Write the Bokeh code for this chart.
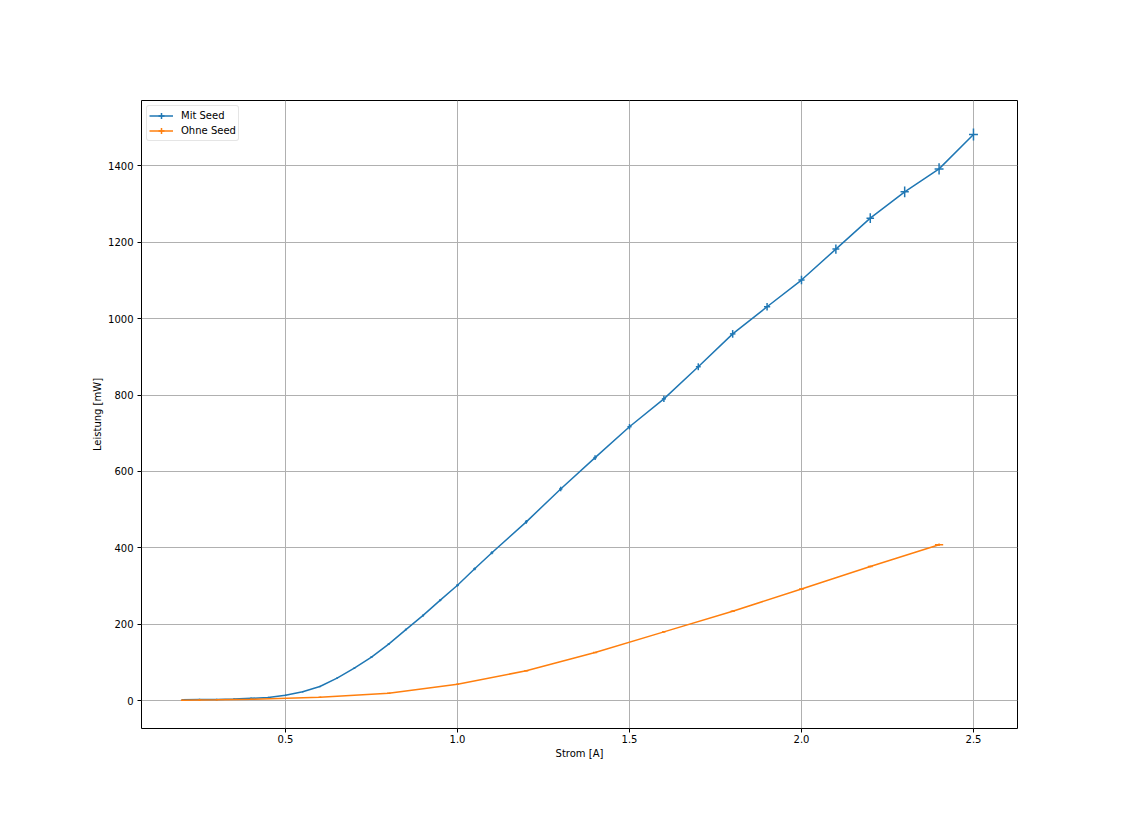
from bokeh.plotting import figure
from bokeh.models import (ColumnDataSource, FixedTicker, Range1d, Legend, LegendItem,
                          NumeralTickFormatter)
from bokeh.embed import file_html
from bokeh.resources import INLINE

# Data
mit_strom = [0.2, 0.25, 0.3, 0.35, 0.4, 0.45, 0.5, 0.55, 0.6, 0.65, 0.7, 0.75, 0.8, 0.85,
             0.9, 0.95, 1.0, 1.05, 1.1, 1.2, 1.3, 1.4, 1.5, 1.6, 1.7, 1.8, 1.9, 2.0, 2.1,
             2.2, 2.3, 2.4, 2.5]
mit_leistung = [2, 3, 3, 4, 6, 8, 14, 23, 37, 59, 85, 114, 148, 186, 223, 263, 302, 345,
                387, 468, 554, 636, 717, 790, 874, 960, 1031, 1101, 1182, 1263, 1332, 1392, 1482]
mit_xerr = [0.002, 0.002, 0.002, 0.002, 0.002, 0.002, 0.002, 0.002, 0.002, 0.002, 0.003,
            0.003, 0.003, 0.003, 0.003, 0.003, 0.004, 0.004, 0.004, 0.004, 0.005, 0.005,
            0.006, 0.006, 0.007, 0.008, 0.009, 0.009, 0.010, 0.011, 0.012, 0.013, 0.013]
mit_yerr = [0.5, 0.5, 0.5, 0.5, 0.5, 0.5, 0.5, 0.5, 1, 1, 1, 1.5, 2, 2, 2.5, 3, 3, 3.5, 4,
            5, 6, 6, 7, 8, 9, 10, 10, 11, 12, 13, 14, 15, 16]

ohne_strom = [0.2, 0.25, 0.3, 0.4, 0.6, 0.8, 1.0, 1.2, 1.4, 1.6, 1.8, 2.0, 2.2, 2.4]
ohne_leistung = [1, 1.5, 2, 3.5, 9, 19, 43, 78, 126, 180, 234, 292, 351, 408]
ohne_xerr = [0.004, 0.003, 0.003, 0.003, 0.004, 0.005, 0.004, 0.006, 0.006, 0.005, 0.006,
             0.007, 0.007, 0.012]
ohne_yerr = [0.5, 0.5, 0.5, 0.5, 0.5, 0.5, 1, 1, 1, 1.5, 2, 2, 2, 3]

x_ticks = [0.5, 1.0, 1.5, 2.0, 2.5]
y_ticks = [0, 200, 400, 600, 800, 1000, 1200, 1400]

BLUE = "#1f77b4"
ORANGE = "#ff7f0e"

p = figure(frame_width=876, frame_height=628, output_backend="svg", toolbar_location=None,
           x_range=Range1d(0.0814, 2.628), y_range=Range1d(-73, 1571),
           min_border_left=141, min_border_right=97, min_border_top=100, min_border_bottom=88,
           background_fill_color="white", border_fill_color="white")

p.outline_line_color = "black"
p.outline_line_width = 1

for ax in (p.xaxis, p.yaxis):
    ax.axis_line_color = None
    ax.major_tick_in = 0
    ax.major_tick_out = 4
    ax.major_tick_line_color = "black"
    ax.minor_tick_line_color = None
    ax.major_label_text_font = "DejaVu Sans"
    ax.major_label_text_font_size = "10px"
    ax.major_label_text_color = "black"
    ax.axis_label_text_font = "DejaVu Sans"
    ax.axis_label_text_font_size = "10px"
    ax.axis_label_text_font_style = "normal"
    ax.axis_label_text_color = "black"

p.xaxis.major_label_standoff = 2
p.yaxis.major_label_standoff = 4
p.xaxis.ticker = FixedTicker(ticks=x_ticks)
p.yaxis.ticker = FixedTicker(ticks=y_ticks)
p.xaxis.formatter = NumeralTickFormatter(format="0.0")
p.yaxis.formatter = NumeralTickFormatter(format="0")
p.xaxis.axis_label = "Strom [A]"
p.yaxis.axis_label = "Leistung [mW]"
p.xaxis.axis_label_standoff = 2
p.yaxis.axis_label_standoff = 2

p.grid.grid_line_color = "#b0b0b0"
p.grid.grid_line_width = 1

def series(xs, ys, xe, ye, color):
    src = ColumnDataSource(dict(
        x=xs, y=ys,
        x0=[a - e for a, e in zip(xs, xe)], x1=[a + e for a, e in zip(xs, xe)],
        y0=[b - e for b, e in zip(ys, ye)], y1=[b + e for b, e in zip(ys, ye)],
    ))
    ln = p.line("x", "y", source=src, line_color=color, line_width=1.5)
    p.segment(x0="x0", y0="y", x1="x1", y1="y", source=src, line_color=color, line_width=1.5)
    p.segment(x0="x", y0="y0", x1="x", y1="y1", source=src, line_color=color, line_width=1.5)
    cr = p.scatter(x=[float("nan")], y=[float("nan")], marker="cross", size=12,
                   line_color=color, line_width=1.5)
    return ln, cr

l1, c1 = series(mit_strom, mit_leistung, mit_xerr, mit_yerr, BLUE)
l2, c2 = series(ohne_strom, ohne_leistung, ohne_xerr, ohne_yerr, ORANGE)

legend = Legend(items=[LegendItem(label="Mit Seed", renderers=[l1, c1]),
                       LegendItem(label="Ohne Seed", renderers=[l2, c2])],
                location="top_left")
legend.label_text_font = "DejaVu Sans"
legend.label_text_font_size = "10px"
legend.label_text_color = "black"
legend.border_line_color = "#cccccc"
legend.border_line_width = 1
legend.border_radius = 3
legend.background_fill_alpha = 0.8
legend.margin = 5
legend.padding = 2
legend.spacing = 0
legend.glyph_width = 24
legend.glyph_height = 15
legend.label_height = 15
legend.label_standoff = 8
p.add_layout(legend)

open("out.html", "w").write(file_html(p, INLINE))
